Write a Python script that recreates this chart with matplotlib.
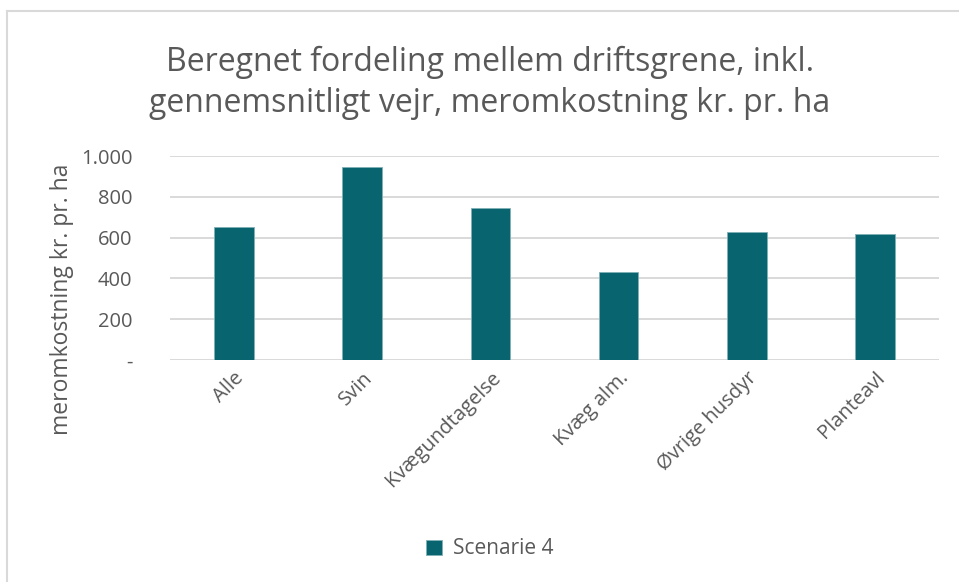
import matplotlib
matplotlib.use("Agg")
import matplotlib.pyplot as plt
from matplotlib.lines import Line2D
from matplotlib.ticker import FixedLocator, FixedFormatter

categories = ["Alle", "Svin", "Kvægundtagelse", "Kvæg alm.", "Øvrige husdyr", "Planteavl"]
values = [653, 948, 747, 433, 627, 619]
yticks = [0, 200, 400, 600, 800, 1000]
ytick_labels = ["-", "200", "400", "600", "800", "1.000"]
series_name = "Scenarie 4"
title = "Beregnet fordeling mellem driftsgrene, inkl.\ngennemsnitligt vejr, meromkostning kr. pr. ha"
ylabel = "meromkostning kr. pr. ha"

plt.rcParams['font.family'] = ['Open Sans', 'DejaVu Sans']
txt = "#595959"
bar_color = "#08646F"
grid_color = "#d9d9d9"

fig = plt.figure(figsize=(9.59, 5.82), dpi=100)
ax = fig.add_axes([170/959, 1-360/582, (939-170)/959, (360-156)/582])

x = range(len(categories))
bars = ax.bar(x, values, width=0.31, color=bar_color, edgecolor="#7fb0b6", linewidth=0.6, zorder=3, label=series_name)
ax.set_xlim(-0.5, len(categories)-0.5)
ax.set_ylim(0, 1000)
ax.yaxis.set_major_locator(FixedLocator(yticks))
ax.yaxis.set_major_formatter(FixedFormatter(ytick_labels))
ax.grid(axis="y", color=grid_color, linewidth=1.4, zorder=0)
ax.set_axisbelow(True)
for s in ax.spines.values():
    s.set_visible(False)
ax.tick_params(axis="both", length=0, colors=txt, labelsize=14.5)
ax.tick_params(axis="y", pad=27)
ax.set_xticks(list(x))
ax.set_xticklabels(categories, rotation=45, ha="right", rotation_mode="anchor", color=txt, fontsize=14.5)
ax.tick_params(axis="x", pad=6)

fig.text(62/959, 1-299/582, ylabel, rotation=90, ha="center", va="center", fontsize=16.5, color=txt)

fig.text(490/959, 1-83/582, title, ha="center", va="center", fontsize=23, color=txt, linespacing=1.3)

leg = fig.legend(handles=[bars], labels=[series_name], loc="center", bbox_to_anchor=(490/959, 1-549/582),
                 frameon=False, fontsize=15, handlelength=0.75, handleheight=0.75, handletextpad=0.55)
for t in leg.get_texts():
    t.set_color(txt)

# chart frame (top and left visible)
fig.add_artist(Line2D([7/959, 1.0], [1-11/582, 1-11/582], transform=fig.transFigure, color="#d9d9d9", linewidth=1.5))
fig.add_artist(Line2D([7/959, 7/959], [0, 1-11/582], transform=fig.transFigure, color="#d9d9d9", linewidth=1.5))

fig.savefig("out.png", dpi=100, facecolor="white")
